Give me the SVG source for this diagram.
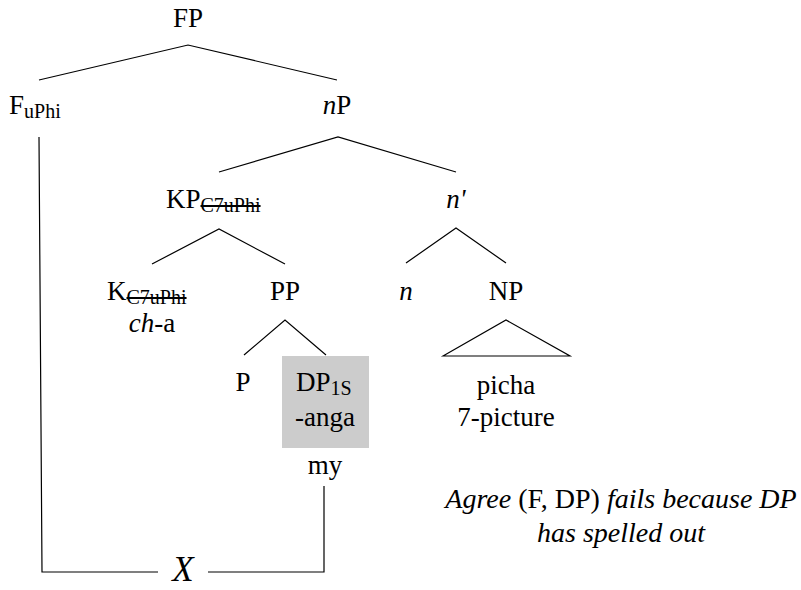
<svg xmlns="http://www.w3.org/2000/svg" width="801" height="590" viewBox="0 0 801 590">
<style>
text{font-family:"Liberation Serif","DejaVu Serif",serif;font-size:27px;fill:#000}
.m{text-anchor:middle}
.i{font-style:italic}
.sub{font-size:20px}
.st{text-decoration:line-through}
line,polyline,polygon{stroke:#000;stroke-width:1.2;fill:none}
</style>
<rect width="801" height="590" fill="#fff"/>
<g id="connectors">
<polyline points="39,80 188,45 337,80"/>
<polyline points="219,172 338,137 456,172"/>
<polyline points="152,264 219,229 285,264"/>
<polyline points="406,263 456,228 506,263"/>
<polyline points="244,355 285,320 326,355"/>
<polygon points="443,356 506,320 570,356"/>
<polyline points="39,137 42,572 158,572"/>
<polyline points="208,572 324,572 324,486"/>
</g>
<g id="FP"><text x="188" y="27" class="m">FP</text></g>
<g id="F"><text x="9" y="114">F<tspan class="sub" dy="4">uPhi</tspan></text></g>
<g id="nP"><text x="337" y="114" class="m"><tspan class="i">n</tspan>P</text></g>
<g id="KP"><text x="166" y="208">KP<tspan class="sub st" dy="4">C7uPhi</tspan></text></g>
<g id="nbar"><text x="456" y="208" class="m i">n'</text></g>
<g id="K"><text x="107" y="300">K<tspan class="sub st" dy="4">C7uPhi</tspan></text>
<text x="152" y="332" class="m"><tspan class="i">ch</tspan>-a</text></g>
<g id="PP"><text x="285" y="300" class="m">PP</text></g>
<g id="n"><text x="406" y="300" class="m i">n</text></g>
<g id="NP"><text x="506" y="300" class="m">NP</text>
<text x="506" y="394" class="m">picha</text>
<text x="506" y="426" class="m">7-picture</text></g>
<g id="P"><text x="243" y="391" class="m">P</text></g>
<g id="DP"><rect x="282" y="356" width="87" height="92" fill="#cccccc"/>
<text x="296" y="391">DP<tspan class="sub" dy="4">1S</tspan></text>
<text x="325" y="426" class="m">-anga</text>
<text x="325" y="474" class="m">my</text></g>
<g id="X"><text x="183" y="581" class="m i" style="font-size:35px">X</text></g>
<g id="note"><text x="621" y="508" class="m" style="font-size:28px"><tspan class="i">Agree</tspan> (F, DP) <tspan class="i">fails because DP</tspan></text>
<text x="621" y="542" class="m i" style="font-size:28px">has spelled out</text></g>
</svg>
